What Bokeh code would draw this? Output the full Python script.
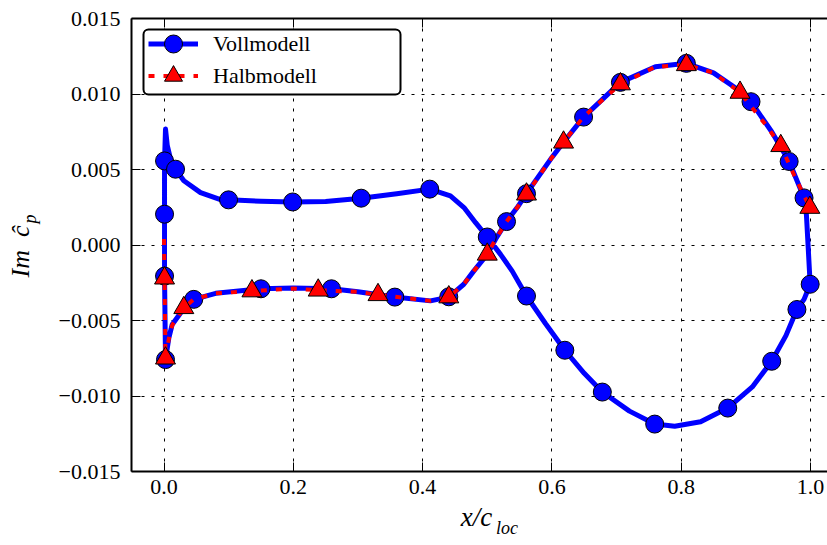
import numpy as np
from bokeh.plotting import figure
from bokeh.models import (Range1d, FixedTicker, LinearAxis, Legend, LegendItem,
                          BoxAnnotation, CustomJSTickFormatter)
from bokeh.embed import file_html
from bokeh.resources import INLINE

# ---------------- data ----------------
series_names = ["Vollmodell", "Halbmodell"]

voll_line_x = [0.9995, 0.990, 0.979, 0.962, 0.940, 0.910, 0.872, 0.830, 0.790, 0.759,
               0.720, 0.678, 0.650, 0.620, 0.590, 0.5607, 0.5386, 0.5205, 0.500, 0.482,
               0.464, 0.443, 0.411, 0.360, 0.305, 0.250, 0.199, 0.150, 0.0998, 0.0874,
               0.0565, 0.0307, 0.0178, 0.010, 0.005, 0.0023, 0.0008, 0.0008, 0.0008, 0.0023,
               0.0075, 0.0127, 0.0306, 0.046, 0.080, 0.150, 0.200, 0.259, 0.300, 0.357,
               0.412, 0.4405, 0.4637, 0.479, 0.500, 0.5128, 0.5298, 0.5463, 0.5607, 0.600,
               0.618, 0.649, 0.706, 0.760, 0.808, 0.850, 0.891, 0.908, 0.940, 0.967,
               0.990, 0.9937, 0.9995]
voll_line_y = [-0.0026, -0.0036, -0.00427, -0.0060, -0.0077, -0.0094, -0.0108, -0.0117, -0.0120, -0.01186,
               -0.0110, -0.00974, -0.0085, -0.00697, -0.0052, -0.00338, -0.00173, -0.00062, 0.00053, 0.00148,
               0.00248, 0.00325, 0.0037, 0.0034, 0.0031, 0.00288, 0.00285, 0.0029, 0.00299, 0.0030,
               0.00347, 0.00425, 0.00502, 0.0057, 0.0066, 0.00768, 0.00557, 0.00204, -0.00206, -0.00759,
               -0.00615, -0.00526, -0.0042, -0.0036, -0.0032, -0.0029, -0.00285, -0.0029, -0.0031, -0.00345,
               -0.0037, -0.00345, -0.0026, -0.00173, -0.00062, 0.00038, 0.00155, 0.00248, 0.0034, 0.0058,
               0.0068, 0.00847, 0.01077, 0.0118, 0.01203, 0.0114, 0.0102, 0.00949, 0.0075, 0.00553,
               0.00312, 0.0020, -0.0026]

voll_mark_x = [0.0008, 0.0178, 0.0998, 0.199, 0.305, 0.411, 0.0008, 0.0008, 0.0023, 0.046,
               0.150, 0.259, 0.357, 0.4405, 0.500, 0.5298, 0.5607, 0.649, 0.706, 0.808,
               0.908, 0.967, 0.990, 0.9995, 0.979, 0.940, 0.872, 0.759, 0.678, 0.620, 0.5607]
voll_mark_y = [0.00557, 0.00502, 0.00299, 0.00285, 0.0031, 0.0037, 0.00204, -0.00206, -0.00759, -0.0036,
               -0.0029, -0.0029, -0.00345, -0.00343, 0.00053, 0.00155, 0.0034, 0.00847, 0.01077, 0.01203,
               0.00949, 0.00553, 0.00312, -0.0026, -0.00427, -0.0077, -0.0108, -0.01186, -0.00974, -0.00697, -0.00338]

halb_line_x = [0.0, 0.0008, 0.0023, 0.0075, 0.0127, 0.0306, 0.046, 0.080, 0.136, 0.200,
               0.2385, 0.300, 0.331, 0.412, 0.4405, 0.4637, 0.479, 0.500, 0.5128, 0.5298,
               0.5463, 0.5607, 0.600, 0.618, 0.649, 0.706, 0.760, 0.808, 0.850, 0.891,
               0.930, 0.954, 0.975, 0.999]
halb_line_y = [0.0004, -0.0022, -0.0075, -0.0062, -0.0053, -0.00416, -0.0036, -0.0032, -0.00305, -0.00288,
               -0.0030, -0.0031, -0.0033, -0.0037, -0.00345, -0.0026, -0.00173, -0.00062, 0.00038, 0.00155,
               0.00248, 0.00336, 0.0058, 0.0068, 0.0085, 0.01066, 0.0118, 0.01193, 0.0114, 0.0101,
               0.0080, 0.00657, 0.0046, 0.00248]

halb_mark_x = [0.0008, 0.0023, 0.0306, 0.136, 0.2385, 0.331, 0.4405, 0.500, 0.5607, 0.618,
               0.706, 0.808, 0.891, 0.954, 0.999]
halb_mark_y = [-0.0022, -0.0075, -0.00416, -0.00305, -0.0030, -0.0033, -0.00345, -0.00062, 0.00336, 0.0068,
               0.01066, 0.01193, 0.0101, 0.00657, 0.00248]

x_ticks = [0.0, 0.2, 0.4, 0.6, 0.8, 1.0]
y_ticks = [-0.015, -0.010, -0.005, 0.0, 0.005, 0.010, 0.015]

# ---------------- figure ----------------
FONT = "Liberation Serif"

p = figure(width=827, height=545, output_backend="svg", toolbar_location=None,
           x_range=Range1d(-0.0503, 1.0263), y_range=Range1d(-0.015, 0.015),
           min_border_left=131, min_border_right=0, min_border_top=18, min_border_bottom=74)
p.outline_line_color = None
p.background_fill_color = "white"
p.border_fill_color = "white"

xt = FixedTicker(ticks=x_ticks)
yt = FixedTicker(ticks=y_ticks)
p.xaxis.ticker = xt
p.yaxis.ticker = yt
p.xgrid.ticker = xt
p.ygrid.ticker = yt
p.xaxis.formatter = CustomJSTickFormatter(code="return tick.toFixed(1);")
p.yaxis.formatter = CustomJSTickFormatter(
    code="return (tick < -1e-12 ? '\u2212' : '') + Math.abs(tick).toFixed(3);")

for ax in (p.xaxis[0], p.yaxis[0]):
    ax.axis_line_width = 2
    ax.axis_line_color = "black"
    ax.major_tick_in = 9
    ax.major_tick_out = 0
    ax.major_tick_line_width = 1
    ax.major_tick_line_color = "black"
    ax.minor_tick_line_color = None
    ax.major_label_text_font = FONT
    ax.major_label_text_font_size = "22px"
    ax.major_label_text_color = "black"
p.yaxis.major_label_standoff = 11
p.xaxis.major_label_standoff = 8

top_axis = LinearAxis(ticker=xt, formatter=CustomJSTickFormatter(code="return '';"),
                      axis_line_width=2, axis_line_color="black",
                      major_tick_in=9, major_tick_out=0, major_tick_line_width=1,
                      minor_tick_line_color=None, major_label_standoff=0,
                      major_label_text_font_size="0px")
p.add_layout(top_axis, "above")

for g in (p.xgrid[0], p.ygrid[0]):
    g.grid_line_color = "black"
    g.grid_line_width = 1
    g.grid_line_dash = "3 7"
    g.grid_line_alpha = 1.0

# ---------------- glyphs ----------------
blue_line = p.line(voll_line_x, voll_line_y, line_color="#0000ff", line_width=5, line_join="round")
blue_pts = p.scatter(voll_mark_x, voll_mark_y, marker="circle", size=18,
                     fill_color="#0000ff", line_color="black", line_width=1)
red_line = p.line(halb_line_x, halb_line_y, line_color="#ff0000", line_width=4, line_dash="6 9",
                  line_join="round")
red_pts = p.scatter(halb_mark_x, halb_mark_y, marker="triangle", size=20,
                    fill_color="#ff0000", line_color="black", line_width=1)

# legend frame (drawn separately so the legend markers can be large)
legend_box = BoxAnnotation(left=12, right=269, top=442, bottom=377,
                           left_units="screen", right_units="screen",
                           top_units="screen", bottom_units="screen",
                           fill_color="white", fill_alpha=1.0,
                           line_color="black", line_width=2, line_alpha=1.0,
                           border_radius=5, level="annotation")
p.add_layout(legend_box)

leg_kw = dict(padding=5, glyph_width=50, glyph_height=45, label_standoff=15, label_width=183,
              label_text_font=FONT, label_text_font_size="22px", label_text_color="black",
              border_line_alpha=0.0, background_fill_alpha=0.0)
legend1 = Legend(items=[LegendItem(label=series_names[0], renderers=[blue_line, blue_pts])],
                 location=(12, 400), **leg_kw)
legend2 = Legend(items=[LegendItem(label=series_names[1], renderers=[red_line, red_pts])],
                 location=(12, 368), **leg_kw)
p.add_layout(legend1)
p.add_layout(legend2)

# ---------------- axis labels (math-like, built from pieces as tick labels) ----------------
def label_axis(pos, txt, size, standoff):
    return LinearAxis(ticker=FixedTicker(ticks=[pos]),
                      formatter=CustomJSTickFormatter(code="return %r;" % txt),
                      axis_line_color=None, major_tick_line_color=None,
                      minor_tick_line_color=None, major_tick_in=0, major_tick_out=0,
                      major_label_standoff=standoff, major_label_orientation="parallel",
                      major_label_text_font=FONT, major_label_text_font_style="italic",
                      major_label_text_font_size=size, major_label_text_color="black")

p.add_layout(label_axis(0.4834, "x/c", "27px", 5), "below")
p.add_layout(label_axis(0.5305, "loc", "18px", -17), "below")
p.add_layout(label_axis(0.00172, "p", "18px", 15), "left")
p.add_layout(label_axis(-0.00043, "Im\u2002\u0109", "26px", -18), "left")

open("out.html", "w").write(file_html(p, INLINE))
